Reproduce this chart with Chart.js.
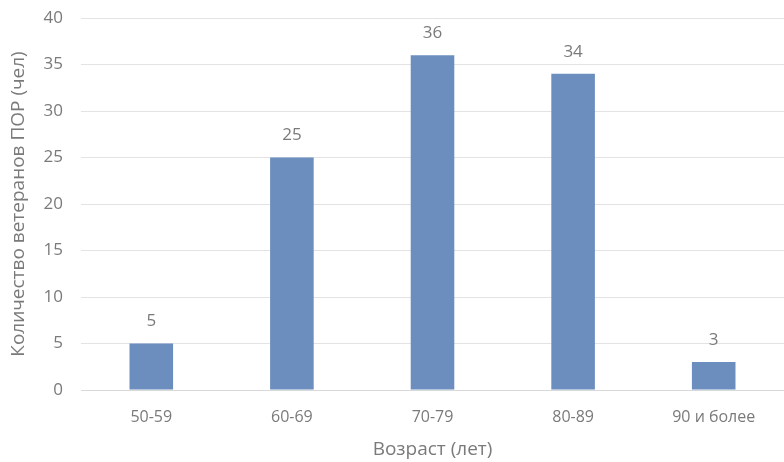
<!DOCTYPE html>
<html>
<head>
<meta charset="utf-8">
<script src="https://cdn.jsdelivr.net/npm/chart.js@4"></script>
<style>
html,body{margin:0;padding:0;background:#fff;}
#wrap{width:784px;height:462px;}
</style>
</head>
<body>
<div id="wrap"><canvas id="c" width="784" height="462"></canvas></div>
<script>
const categories = ["50-59", "60-69", "70-79", "80-89", "90 и более"];
const values = [5, 25, 36, 34, 3];
const yTicks = [0, 5, 10, 15, 20, 25, 30, 35, 40];

const FONT = "'Open Sans', 'Liberation Sans', sans-serif";
const TXT = "#7a7a7a";

const valueLabels = {
  id: "valueLabels",
  afterDatasetsDraw(chart) {
    const ctx = chart.ctx;
    const meta = chart.getDatasetMeta(0);
    ctx.save();
    ctx.font = "17px " + FONT;
    ctx.fillStyle = TXT;
    ctx.textAlign = "center";
    ctx.textBaseline = "middle";
    meta.data.forEach((bar, i) => {
      ctx.fillText(String(values[i]), bar.x, bar.y - 22);
    });
    ctx.restore();
  }
};

new Chart(document.getElementById("c"), {
  type: "bar",
  data: {
    labels: categories,
    datasets: [{
      data: values,
      backgroundColor: "#6b8ebf",
      barPercentage: 0.31,
      categoryPercentage: 1.0
    }]
  },
  options: {
    responsive: false,
    animation: false,
    devicePixelRatio: 1,
    layout: { padding: { top: 18, right: 0, left: 0, bottom: 0 } },
    plugins: { legend: { display: false }, tooltip: { enabled: false } },
    scales: {
      x: {
        grid: { display: false, drawTicks: false },
        border: { color: "#d9d9d9" },
        ticks: { color: TXT, font: { family: FONT, size: 16 }, padding: 18 },
        title: { display: true, text: "Возраст (лет)", color: TXT, font: { family: FONT, size: 19 }, padding: { top: 6, bottom: 1 } },
        afterFit(s) { s.height = 72; s.paddingLeft = 0; s.paddingRight = 0; }
      },
      y: {
        min: 0, max: 40,
        afterBuildTicks(s) { s.ticks = yTicks.map(v => ({ value: v })); },
        grid: { color: "#e3e3e3", drawTicks: false },
        border: { display: false },
        ticks: { color: TXT, font: { family: FONT, size: 17 }, padding: 18 },
        title: { display: true, text: "Количество ветеранов ПОР (чел)", color: TXT, font: { family: FONT, size: 19 }, padding: { top: 7, bottom: 0 } },
        afterFit(s) { s.width = 81; s.paddingTop = 0; s.paddingBottom = 0; }
      }
    }
  },
  plugins: [valueLabels]
});
</script>
</body>
</html>
